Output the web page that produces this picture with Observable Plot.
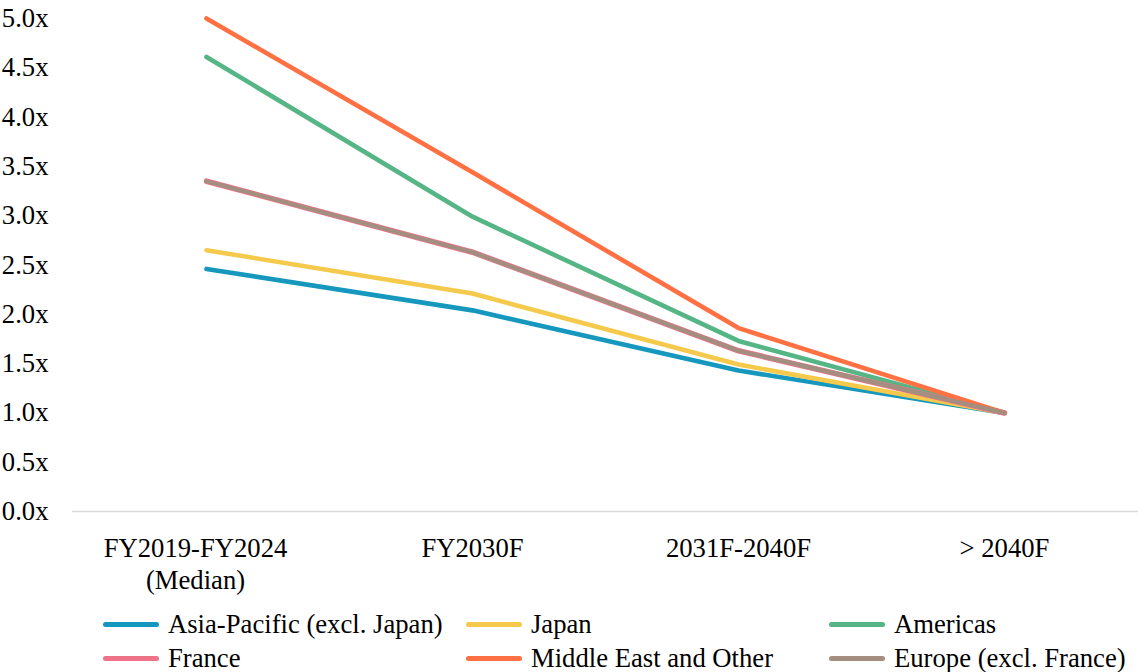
<!DOCTYPE html>
<html>
<head>
<meta charset="utf-8">
<script src="https://cdn.jsdelivr.net/npm/d3@7"></script>
<script src="https://cdn.jsdelivr.net/npm/@observablehq/plot@0.6"></script>
<style>
  html, body { margin: 0; padding: 0; background: #fff; font-family: 'Liberation Serif', serif; }
  #wrap { width: 1138px; font-family: 'Liberation Serif', serif; color: #000; }
  #legend {
    display: grid;
    grid-template-columns: 363px 363px auto;
    margin-left: 103px;
    margin-top: 12px;
    font-size: 26.67px;
    line-height: 34px;
  }
  .item { display: flex; align-items: center; white-space: nowrap; }
  .sw { width: 56px; height: 5px; border-radius: 3px; margin-right: 9px; flex: none; }
</style>
</head>
<body>
<div id="wrap">
  <div id="chart"></div>
  <div id="legend"></div>
</div>
<script>
// Periods on the x axis
const periods = ["FY2019-FY2024\n(Median)", "FY2030F", "2031F-2040F", "> 2040F"];

// Regions, in drawing / legend order
const regions = [
  "Asia-Pacific (excl. Japan)",
  "Japan",
  "Americas",
  "France",
  "Middle East and Other",
  "Europe (excl. France)"
];
const colors = ["#1597be", "#f4c94c", "#55b584", "#ee7388", "#ff7043", "#a38e80"];

// Multiple (x) per region, one value per period
const asiaPacific = [2.46, 2.04, 1.43, 1.0];
const japan       = [2.65, 2.21, 1.49, 1.0];
const americas    = [4.61, 2.99, 1.73, 1.0];
const france      = [3.35, 2.63, 1.63, 1.0];
const middleEast  = [5.00, 3.44, 1.86, 1.0];
const europe      = [3.35, 2.63, 1.63, 1.0];

const seriesValues = [asiaPacific, japan, americas, france, middleEast, europe];

const yTicks = [0, 0.5, 1, 1.5, 2, 2.5, 3, 3.5, 4, 4.5, 5];

const rows = regions.flatMap((region, i) =>
  periods.map((period, j) => ({region, period, value: seriesValues[i][j]}))
);

const xAxisText = {tickSize: 0, tickPadding: 22, fontSize: 26.67, lineHeight: 1.22, label: null};

const chart = Plot.plot({
  width: 1138,
  height: 595,
  marginLeft: 72,
  marginRight: 0,
  marginTop: 18,
  marginBottom: 84,
  style: {fontFamily: "'Liberation Serif', serif", fontSize: "26.67px", color: "#000", background: "#fff"},
  x: {type: "point", domain: periods, padding: 0.5},
  y: {domain: [0, 5]},
  color: {domain: regions, range: colors},
  marks: [
    Plot.ruleY([0], {stroke: "#d9d9d9", strokeWidth: 1.5}),
    Plot.axisY({
      ticks: yTicks,
      tickSize: 0,
      tickPadding: 24,
      tickFormat: d => d.toFixed(1) + "x",
      fontSize: 26.67,
      label: null
    }),
    // the two-line first label sits a little left of its point
    Plot.axisX({...xAxisText, ticks: periods.slice(0, 1), dx: -11}),
    Plot.axisX({...xAxisText, ticks: periods.slice(1)}),
    Plot.line(rows, {
      x: "period",
      y: "value",
      z: "region",
      stroke: "region",
      strokeWidth: d => d.region === "France" ? 5.6 : d.region === "Europe (excl. France)" ? 4.2 : 4.6,
      strokeLinejoin: "round",
      strokeLinecap: "round"
    })
  ]
});
document.getElementById("chart").appendChild(chart);

// Legend below the plot
const legend = document.getElementById("legend");
regions.forEach((r, i) => {
  const item = document.createElement("div");
  item.className = "item";
  const sw = document.createElement("span");
  sw.className = "sw";
  sw.style.background = colors[i];
  const label = document.createElement("span");
  label.textContent = r;
  item.appendChild(sw);
  item.appendChild(label);
  legend.appendChild(item);
});
</script>
</body>
</html>
